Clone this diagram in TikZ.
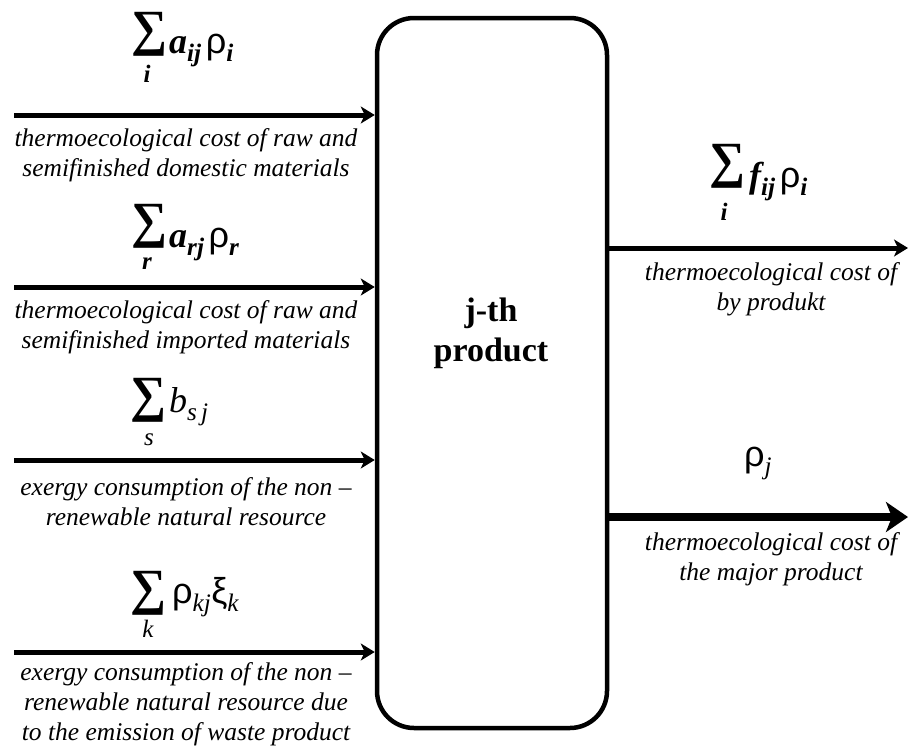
\documentclass[tikz,border=0pt]{standalone}
\usepackage{amsmath}
\usepackage{graphicx}
\usepackage{fontspec}
\setmainfont{Liberation Serif}
\newfontfamily\rhofont{Liberation Sans}
\usetikzlibrary{arrows.meta}
\newcommand{\bi}[1]{\text{\bfseries\itshape #1}}
\newcommand{\ti}[1]{\text{\itshape #1}}
\newcommand{\rh}{\text{\rhofont ρ}}
\newcommand{\BigSum}{\resizebox*{36pt}{44pt}{\bfseries ∑}}
\begin{document}
\begin{tikzpicture}[x=1pt,y=-1pt,
  flow/.style={line width=5pt,-{Stealth[length=14pt,width=17pt,inset=4pt]}},
  major/.style={line width=8.5pt,-{Stealth[length=22pt,width=30pt,inset=6pt]}},
  lbl/.style={font=\fontsize{25.5}{30}\selectfont\itshape,align=center,inner sep=0pt},
  sumsign/.style={inner sep=0pt},
  under/.style={font=\fontsize{25}{28}\selectfont,inner sep=0pt},
  expr/.style={font=\fontsize{36}{40}\selectfont,inner sep=0pt,anchor=base west}]
\useasboundingbox (0,0) rectangle (908,747);
\node[draw,line width=4.5pt,rounded corners=37pt,minimum width=230pt,minimum height=710pt,inner sep=0pt] (box) at (492,373) {};
\node[font=\fontsize{34}{40}\selectfont\bfseries,align=center,inner sep=0pt] (name) at (491,333) {j-th\\product};
% inputs
\coordinate (s1) at (14,115);
\coordinate (s2) at (14,287);
\coordinate (s3) at (14,460);
\coordinate (s4) at (14,652);
\draw[flow] (s1) -- (s1 -| box.west);
\draw[flow] (s2) -- (s2 -| box.west);
\draw[flow] (s3) -- (s3 -| box.west);
\draw[flow] (s4) -- (s4 -| box.west);
% formula 1
\node[sumsign] (S1) at (149,34) {\BigSum};
\node[under] (u1) at (147,74) {\bfseries\itshape i};
\node[expr] (e1) at (169,53) {$\bi{a}_{\bi{ij}}\,\rh_{\bi{i}}$};
% formula 2
\node[sumsign] (S2) at (149,226) {\BigSum};
\node[under] (u2) at (147,264) {\bfseries\itshape r};
\node[expr] (e2) at (169,247) {$\bi{a}_{\bi{rj}}\,\rh_{\bi{r}}$};
% formula 3
\node[sumsign] (S3) at (148,400) {\BigSum};
\node[under] (u3) at (149,440) {\itshape s};
\node[expr] (e3) at (169,412) {$\ti{b}_{\ti{s\,j}}$};
% formula 4
\node[sumsign] (S4) at (148,593) {\BigSum};
\node[under] (u4) at (148,629) {\itshape k};
\node[expr] (e4) at (172,603) {$\rh_{\ti{kj}}\text{\rhofont ξ}_{\ti{k}}$};
% labels
\node[lbl] (l1) at (186,155) {thermoecological cost of raw and\\semifinished domestic materials};
\node[lbl] (l2) at (186,327) {thermoecological cost of raw and\\semifinished imported materials};
\node[lbl] (l3) at (186,502) {exergy consumption of the non –\\renewable natural resource};
\node[lbl] (l4) at (186,704) {exergy consumption of the non –\\renewable natural resource due\\to the emission of waste product};
% outputs
\coordinate (o1) at (908,248);
\coordinate (o2) at (908,517);
\draw[flow] (o1 -| box.east) -- (o1);
\draw[major] (o2 -| box.east) -- (o2);
\node[sumsign] (S5) at (727,166) {\BigSum};
\node[under] (u5) at (724,212) {\bfseries\itshape i};
\node[expr] (e5) at (749,187) {$\bi{f}_{\bi{ij}}\,\rh_{\bi{i}}$};
\node[expr] (e6) at (744,466) {$\rh_{\ti{j}}$};
\node[lbl] (m1) at (771,289) {thermoecological cost of\\by produkt};
\node[lbl] (m2) at (771,559) {thermoecological cost of\\the major product};
\end{tikzpicture}
\end{document}
